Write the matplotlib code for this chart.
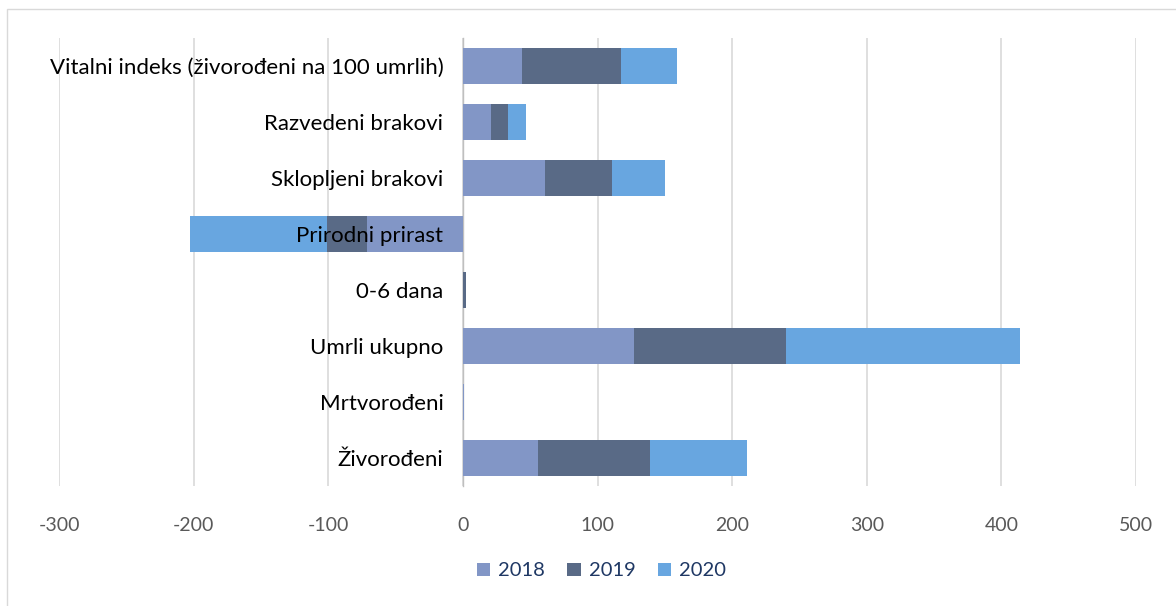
import matplotlib
matplotlib.use("Agg")
import matplotlib.pyplot as plt
from matplotlib.patches import Rectangle

plt.rcParams['font.family'] = ['Lato', 'DejaVu Sans']
plt.rcParams['axes.unicode_minus'] = False

# categories bottom -> top
categories = ['Živorođeni', 'Mrtvorođeni', 'Umrli ukupno', '0-6 dana',
              'Prirodni prirast', 'Sklopljeni brakovi', 'Razvedeni brakovi',
              'Vitalni indeks (živorođeni na 100 umrlih)']
years = ['2018', '2019', '2020']
v2018 = [56, 1, 127, 0, -71, 61, 21, 44.1]
v2019 = [83, 0, 113, 2, -30, 50, 12.5, 73.5]
v2020 = [72, 0, 174, 0, -102, 39, 13.5, 41.4]
colors = ['#8296C6', '#596A86', '#68A6E0']

fig = plt.figure(figsize=(11.76, 6.06), dpi=100)
ax = fig.add_axes([59 / 1176, 1 - 486 / 606, (1136 - 59) / 1176, 448 / 606])

ypos = list(range(len(categories)))
series = [v2018, v2019, v2020]
pos_base = [0] * len(categories)
neg_base = [0] * len(categories)
for name, vals, c in zip(years, series, colors):
    lefts = []
    for i, v in enumerate(vals):
        if v >= 0:
            lefts.append(pos_base[i])
            pos_base[i] += v
        else:
            lefts.append(neg_base[i])
            neg_base[i] += v
    ax.barh(ypos, vals, left=lefts, height=0.66, color=c, label=name, zorder=2)

ax.set_xlim(-300, 500)
ax.set_ylim(-0.5, len(categories) - 0.5)
ax.set_xticks(range(-300, 501, 100))
ax.set_yticks(ypos)
ax.set_yticklabels(categories)
ax.grid(axis='x', color='#D9D9D9', linewidth=1.2, zorder=0)
ax.yaxis.set_zorder(4)  # category labels over the negative bars
for s in ['top', 'right', 'bottom']:
    ax.spines[s].set_visible(False)
ax.spines['left'].set_position(('data', 0))
ax.spines['left'].set_color('#BFBFBF')
ax.spines['left'].set_linewidth(1.0)
ax.spines['left'].set_zorder(1.8)
ax.tick_params(axis='y', length=0, pad=14, labelsize=16, labelcolor='black')
ax.tick_params(axis='x', length=0, pad=22, labelsize=14, labelcolor='#595959')

leg = ax.legend(loc='upper center', bbox_to_anchor=(0.5 + 4 / 1077, -0.13), ncol=3,
                frameon=False, fontsize=14.5, handlelength=0.65, handleheight=0.65,
                columnspacing=1.1, handletextpad=0.4)
for t in leg.get_texts():
    t.set_color('#1F3864')

fig.patches.append(Rectangle((7 / 1176, -0.1), 1.2, 1 - 9 / 606 + 0.1,
                             transform=fig.transFigure, fill=False,
                             edgecolor='#D9D9D9', linewidth=1))

fig.savefig('out.png', dpi=100)
